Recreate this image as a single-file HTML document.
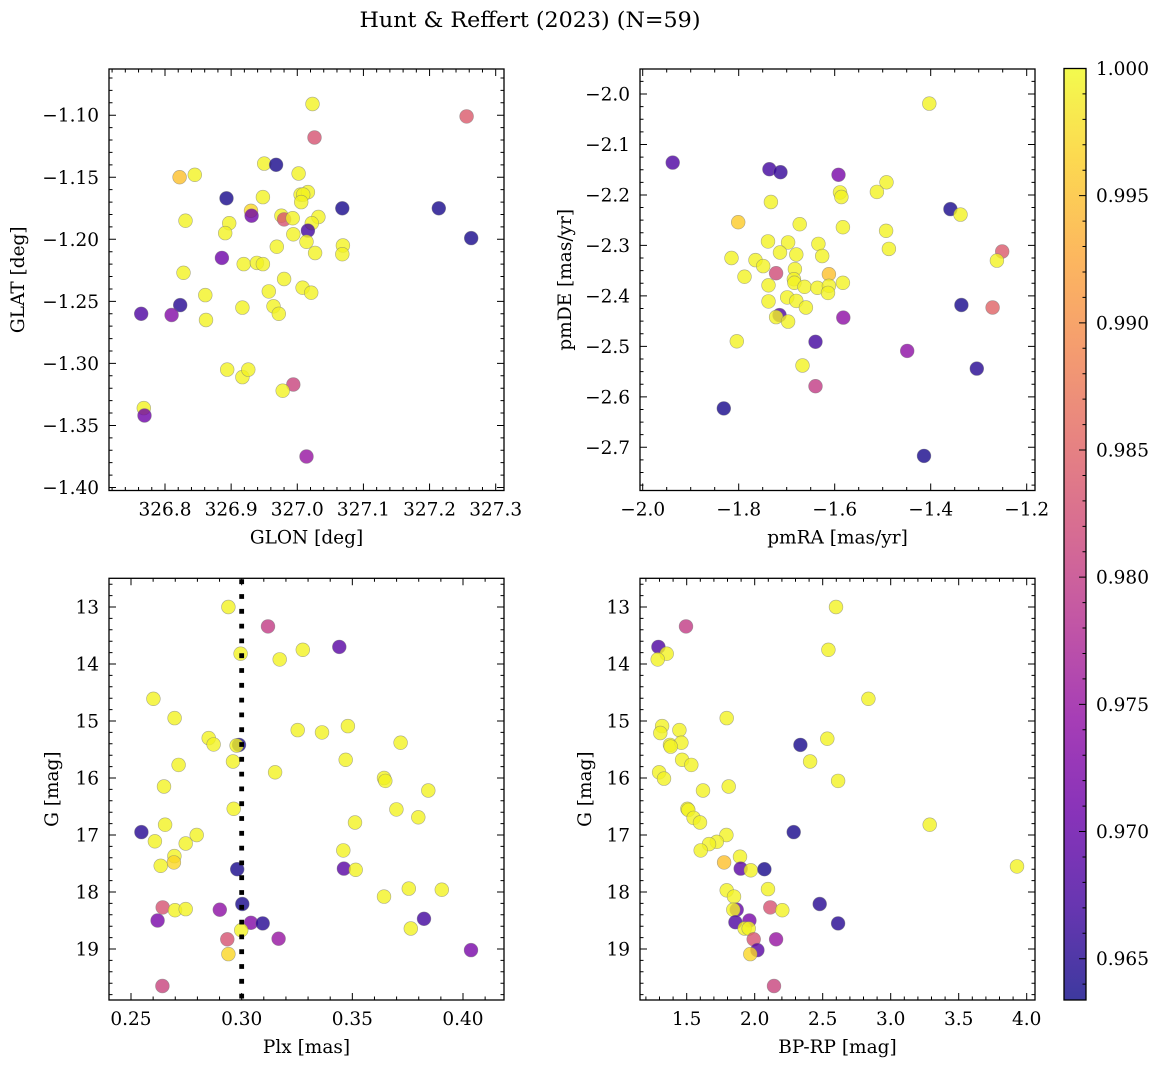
<!DOCTYPE html>
<html><head><meta charset="utf-8">
<style>
html,body{margin:0;padding:0;background:#fff;}
svg{display:block;font-family:"DejaVu Serif","Liberation Serif",serif;}
</style></head>
<body>
<svg id="fig" width="1161" height="1068" viewBox="0 0 1161 1068" xmlns="http://www.w3.org/2000/svg">
<text x="530" y="27" font-size="21.5" text-anchor="middle" textLength="341" lengthAdjust="spacingAndGlyphs">Hunt &amp; Reffert (2023) (N=59)</text>
</svg>
<script>
// ---- Panel 1: GLON vs GLAT ----
const p1Glon = [327.023,327.026,327.256,326.950,326.968,326.822,326.845,327.002,326.893,326.948,327.005,327.016,327.009,327.006,327.068,327.214,327.263,326.930,326.931,326.831,326.897,326.891,326.976,326.980,326.993,327.032,327.022,327.016,326.994,327.014,326.969,327.027,327.069,327.068,326.886,326.919,326.939,326.948,326.828,326.980,326.861,326.957,327.008,327.021,326.823,326.764,326.810,326.862,326.917,326.964,326.972,326.894,326.917,326.926,326.994,326.978,326.768,326.769,327.014];
const p1Glat = [-1.091,-1.118,-1.101,-1.139,-1.140,-1.150,-1.148,-1.147,-1.167,-1.166,-1.164,-1.162,-1.164,-1.170,-1.175,-1.175,-1.199,-1.177,-1.181,-1.185,-1.187,-1.195,-1.181,-1.184,-1.183,-1.182,-1.187,-1.193,-1.196,-1.202,-1.206,-1.211,-1.205,-1.212,-1.215,-1.220,-1.219,-1.220,-1.227,-1.232,-1.245,-1.242,-1.239,-1.243,-1.253,-1.260,-1.261,-1.265,-1.255,-1.254,-1.260,-1.305,-1.311,-1.305,-1.317,-1.322,-1.336,-1.342,-1.375];
const p1Prob = [0.9995,0.983,0.984,0.9995,0.964,0.995,0.9995,0.9995,0.964,0.9995,0.9995,0.9995,0.9995,0.9995,0.964,0.964,0.964,0.997,0.971,0.9995,0.9995,0.9995,0.9995,0.983,0.9995,0.9995,0.9995,0.967,0.9995,0.9995,0.9995,0.9995,0.9995,0.9995,0.971,0.9995,0.9995,0.9995,0.9995,0.9995,0.9995,0.9995,0.9995,0.9995,0.965,0.968,0.973,0.9995,0.9995,0.9995,0.9995,0.9995,0.9995,0.9995,0.981,0.9995,0.9995,0.971,0.975];
const p1XTicks = [326.8,326.9,327.0,327.1,327.2,327.3];
const p1XLabels = ["326.8","326.9","327.0","327.1","327.2","327.3"];
const p1YTicks = [-1.10,-1.15,-1.20,-1.25,-1.30,-1.35,-1.40];
const p1YLabels = ["\u22121.10","\u22121.15","\u22121.20","\u22121.25","\u22121.30","\u22121.35","\u22121.40"];

// ---- Panel 2: pmRA vs pmDE ----
const p2Pmra = [-1.9375,-1.736,-1.713,-1.592,-1.403,-1.492,-1.512,-1.589,-1.586,-1.733,-1.359,-1.338,-1.801,-1.673,-1.583,-1.493,-1.487,-1.739,-1.697,-1.634,-1.626,-1.815,-1.714,-1.680,-1.765,-1.749,-1.251,-1.262,-1.788,-1.722,-1.683,-1.612,-1.685,-1.684,-1.738,-1.663,-1.636,-1.612,-1.614,-1.583,-1.699,-1.680,-1.738,-1.660,-1.715,-1.722,-1.697,-1.582,-1.336,-1.271,-1.804,-1.640,-1.449,-1.304,-1.667,-1.640,-1.831,-1.414];
const p2Pmde = [-2.136,-2.149,-2.155,-2.160,-2.019,-2.175,-2.194,-2.195,-2.204,-2.214,-2.228,-2.239,-2.254,-2.258,-2.264,-2.271,-2.307,-2.292,-2.294,-2.297,-2.321,-2.325,-2.314,-2.318,-2.329,-2.341,-2.312,-2.330,-2.362,-2.355,-2.347,-2.357,-2.367,-2.374,-2.379,-2.382,-2.384,-2.380,-2.394,-2.374,-2.403,-2.410,-2.411,-2.423,-2.438,-2.442,-2.451,-2.443,-2.418,-2.423,-2.490,-2.491,-2.509,-2.544,-2.538,-2.579,-2.623,-2.717];
const p2Prob = [0.968,0.967,0.966,0.972,0.9995,0.9995,0.9995,0.9995,0.9995,0.9995,0.964,0.9995,0.996,0.9995,0.9995,0.9995,0.9995,0.9995,0.9995,0.9995,0.9995,0.9995,0.9995,0.9995,0.9995,0.9995,0.984,0.9995,0.9995,0.982,0.9995,0.995,0.9995,0.9995,0.9995,0.9995,0.9995,0.9995,0.9995,0.9995,0.9995,0.9995,0.9995,0.9995,0.968,0.9995,0.9995,0.974,0.964,0.985,0.9995,0.967,0.974,0.965,0.9995,0.980,0.964,0.964];
const p2XTicks = [-2.0,-1.8,-1.6,-1.4,-1.2];
const p2XLabels = ["\u22122.0","\u22121.8","\u22121.6","\u22121.4","\u22121.2"];
const p2YTicks = [-2.0,-2.1,-2.2,-2.3,-2.4,-2.5,-2.6,-2.7];
const p2YLabels = ["\u22122.0","\u22122.1","\u22122.2","\u22122.3","\u22122.4","\u22122.5","\u22122.6","\u22122.7"];

// ---- Panel 3: Plx vs G ----
const p3Plx = [0.2940,0.3119,0.3441,0.2995,0.3276,0.3172,0.2601,0.2697,0.3253,0.3363,0.3480,0.2851,0.2873,0.2988,0.2977,0.3718,0.2961,0.2715,0.3470,0.3151,0.3643,0.3649,0.2649,0.3843,0.3699,0.2964,0.3798,0.3512,0.2654,0.2547,0.2797,0.2608,0.2747,0.3459,0.2696,0.2694,0.2634,0.2980,0.3462,0.3515,0.3643,0.3755,0.3904,0.2643,0.2699,0.2747,0.2901,0.3003,0.2620,0.3042,0.3095,0.3824,0.2998,0.3764,0.2935,0.3167,0.2940,0.4036,0.2642];
const p3G = [13.00,13.34,13.70,13.82,13.75,13.92,14.61,14.95,15.16,15.20,15.09,15.30,15.41,15.42,15.43,15.38,15.71,15.77,15.68,15.90,16.00,16.05,16.15,16.22,16.55,16.54,16.69,16.78,16.82,16.95,17.00,17.11,17.15,17.27,17.37,17.48,17.54,17.60,17.59,17.61,18.08,17.94,17.96,18.27,18.32,18.30,18.31,18.21,18.50,18.54,18.55,18.47,18.67,18.64,18.83,18.82,19.09,19.02,19.65];
const p3Prob = [0.9995,0.980,0.969,0.9995,0.9995,0.9995,0.9995,0.9995,0.9995,0.9995,0.9995,0.9995,0.9995,0.964,0.9995,0.9995,0.9995,0.9995,0.9995,0.9995,0.9995,0.9995,0.9995,0.9995,0.9995,0.9995,0.9995,0.9995,0.9995,0.965,0.9995,0.9995,0.9995,0.9995,0.9995,0.997,0.9995,0.964,0.969,0.9995,0.9995,0.9995,0.9995,0.983,0.9995,0.9995,0.974,0.964,0.972,0.973,0.965,0.967,0.9995,0.9995,0.983,0.975,0.997,0.972,0.981];
const p3XTicks = [0.25,0.30,0.35,0.40];
const p3XLabels = ["0.25","0.30","0.35","0.40"];
const gTicks = [13,14,15,16,17,18,19];
const gLabels = ["13","14","15","16","17","18","19"];
const plxRef = [0.30];

// ---- Panel 4: BP-RP vs G ----
const p4Bprp = [2.598,1.495,1.292,1.353,1.287,2.542,2.836,1.794,1.319,1.306,1.446,1.377,1.461,1.382,2.336,2.534,1.466,1.534,2.407,1.297,1.333,2.613,1.809,1.620,1.505,1.512,1.551,1.598,3.287,1.792,2.287,1.721,1.664,1.603,3.929,1.892,1.775,1.897,1.971,2.071,1.794,1.848,2.098,2.478,2.115,2.203,1.868,1.843,2.613,1.858,1.961,1.926,1.956,1.993,2.157,2.020,1.968,2.142];
const p4G = [13.00,13.34,13.70,13.82,13.92,13.75,14.61,14.95,15.09,15.21,15.16,15.42,15.38,15.45,15.42,15.31,15.68,15.77,15.71,15.90,16.01,16.05,16.15,16.22,16.54,16.56,16.70,16.78,16.82,17.00,16.95,17.12,17.16,17.27,17.55,17.38,17.48,17.59,17.62,17.60,17.97,18.08,17.95,18.21,18.27,18.32,18.31,18.31,18.55,18.53,18.50,18.64,18.64,18.83,18.83,19.02,19.09,19.65];
const p4Prob = [0.9995,0.980,0.968,0.9995,0.9995,0.9995,0.9995,0.9995,0.9995,0.9995,0.9995,0.9995,0.9995,0.9995,0.964,0.9995,0.9995,0.9995,0.9995,0.9995,0.9995,0.9995,0.9995,0.9995,0.9995,0.9995,0.9995,0.9995,0.9995,0.9995,0.964,0.9995,0.9995,0.9995,0.9995,0.9995,0.995,0.969,0.9995,0.964,0.9995,0.9995,0.9995,0.965,0.983,0.9995,0.970,0.9995,0.965,0.968,0.972,0.9995,0.9995,0.983,0.975,0.969,0.997,0.981];
const p4XTicks = [1.5,2.0,2.5,3.0,3.5,4.0];
const p4XLabels = ["1.5","2.0","2.5","3.0","3.5","4.0"];

// ---- Colorbar ----
const cbTicks = [1.000,0.995,0.990,0.985,0.980,0.975,0.970,0.965];
const cbLabels = ["1.000","0.995","0.990","0.985","0.980","0.975","0.970","0.965"];
const cbMin = 0.96335, cbMax = 1.0;

const NS = "http://www.w3.org/2000/svg";
const svg = document.getElementById('fig');
function mk(tag, attrs, parent){
  const e = document.createElementNS(NS, tag);
  for (const k in attrs) e.setAttribute(k, attrs[k]);
  (parent||svg).appendChild(e);
  return e;
}
const plasma = [[13,8,135],[65,4,157],[106,0,168],[143,13,164],[177,42,144],[204,71,120],[225,100,98],[242,132,75],[252,166,54],[252,206,37],[240,249,33]];
function cmap(v){
  let t = (v - cbMin)/(cbMax - cbMin); t = Math.max(0, Math.min(1, t));
  const f = t*10, i = Math.min(9, Math.floor(f)), r = f - i;
  const a = plasma[i], b = plasma[i+1];
  return 'rgb(' + [0,1,2].map(k => Math.round(a[k] + (b[k]-a[k])*r)).join(',') + ')';
}
function linScale(d0, d1, r0, r1){ return v => r0 + (v - d0)*(r1 - r0)/(d1 - d0); }

function panel(opt){
  const g = mk('g', {});
  
  
  const L = opt.x0, R = opt.x1, T = opt.y0, B = opt.y1;
  const sx = opt.sx, sy = opt.sy;
  const pg = mk('g', {}, g);
  
  
  for (let i = 0; i < opt.xs.length; i++){
    const c = mk('circle', {cx: sx(opt.xs[i]).toFixed(1), cy: sy(opt.ys[i]).toFixed(1), r: 6.9, fill: cmap(opt.ps[i]), 'fill-opacity': 0.8, stroke: '#777', 'stroke-opacity': 0.6, 'stroke-width': 0.6}, pg);
    
    
  }
  if (opt.extra) opt.extra(g);
  const fr = mk('rect', {x: L, y: T, width: R-L, height: B-T, fill: 'none', stroke: '#000', 'stroke-width': 1.3}, g);
  
  
  let tp = '';
  const lo = Math.min(opt.xd[0], opt.xd[1]), hi = Math.max(opt.xd[0], opt.xd[1]);
  for (let v = Math.ceil(lo/opt.xminor - 1e-6)*opt.xminor; v <= hi + 1e-9; v += opt.xminor){
    const x = sx(v); if (x < L+0.5 || x > R-0.5) continue;
    tp += `M${x},${B}v-3.5M${x},${T}v3.5`;
  }
  const ylo = Math.min(opt.yd[0], opt.yd[1]), yhi = Math.max(opt.yd[0], opt.yd[1]);
  for (let v = Math.ceil(ylo/opt.yminor - 1e-6)*opt.yminor; v <= yhi + 1e-9; v += opt.yminor){
    const y = sy(v); if (y < T+0.5 || y > B-0.5) continue;
    tp += `M${L},${y}h3.5M${R},${y}h-3.5`;
  }
  opt.xt.forEach(v => { const x = sx(v); tp += `M${x},${B}v-7M${x},${T}v7`; });
  opt.yt.forEach(v => { const y = sy(v); tp += `M${L},${y}h7M${R},${y}h-7`; });
  const tk = mk('path', {d: tp, stroke: '#000', 'stroke-width': 1, fill: 'none'}, g);
  
  
  opt.xt.forEach((v, i) => {
    const t = mk('text', {x: sx(v), y: B + 25, 'font-size': 18.5, 'text-anchor': 'middle'}, g);
    t.textContent = opt.xl[i];
    
    
  });
  opt.yt.forEach((v, i) => {
    const t = mk('text', {x: L - 10, y: sy(v) + 6.5, 'font-size': 18.5, 'text-anchor': 'end'}, g);
    t.textContent = opt.yl[i];
    
    
  });
  const xt = mk('text', {x: (L+R)/2, y: B + 53, 'font-size': 18.5, 'text-anchor': 'middle'}, g);
  xt.textContent = opt.xlabel;
  
  
  const yt = mk('text', {x: 0, y: 0, 'font-size': 18.5, 'text-anchor': 'middle', transform: `translate(${opt.ylx},${(T+B)/2}) rotate(-90)`}, g);
  yt.textContent = opt.ylabel;
  
  
}

(function(){
  const L=109,R=504,T=69,B=490.5;
  const sx = linScale(326.8, 327.3, 165, 495.7);
  const sy = linScale(-1.10, -1.40, 115.2, 487.5);
  const xd = [326.8 + (L-165)/661, 326.8 + (R-165)/661];
  const yd = [-1.10 - (T-115.2)/1240, -1.10 - (B-115.2)/1240];
  panel({name:'glon-glat-panel', x0:L,x1:R,y0:T,y1:B, sx, sy, xd, yd, xs:p1Glon, ys:p1Glat, ps:p1Prob,
    xt:p1XTicks, xl:p1XLabels, yt:p1YTicks, yl:p1YLabels, xminor:0.02, yminor:0.01,
    xlabel:'GLON [deg]', ylabel:'GLAT [deg]', ylx:24});
})();
(function(){
  const L=640,R=1035,T=69,B=490.5;
  const sx = linScale(-2.0, -1.2, 642.7, 1026.7);
  const sy = linScale(-2.0, -2.7, 94, 447.3);
  const xd = [-2.0 + (L-642.7)/480, -2.0 + (R-642.7)/480];
  const yd = [-2.0 - (T-94)/504.7, -2.0 - (B-94)/504.7];
  panel({name:'pmra-pmde-panel', x0:L,x1:R,y0:T,y1:B, sx, sy, xd, yd, xs:p2Pmra, ys:p2Pmde, ps:p2Prob,
    xt:p2XTicks, xl:p2XLabels, yt:p2YTicks, yl:p2YLabels, xminor:0.05, yminor:0.025,
    xlabel:'pmRA [mas/yr]', ylabel:'pmDE [mas/yr]', ylx:571});
})();
(function(){
  const L=109,R=504,T=578.3,B=1000;
  const sx = linScale(0.25, 0.40, 131, 463);
  const sy = linScale(13, 19, 607, 949);
  const xd = [0.25 + (L-131)/2213, 0.25 + (R-131)/2213];
  const yd = [13 + (T-607)/57, 13 + (B-607)/57];
  panel({name:'plx-g-panel', x0:L,x1:R,y0:T,y1:B, sx, sy, xd, yd, xs:p3Plx, ys:p3G, ps:p3Prob,
    xt:p3XTicks, xl:p3XLabels, yt:gTicks, yl:gLabels, xminor:0.01, yminor:0.2,
    xlabel:'Plx [mas]', ylabel:'G [mag]', ylx:58,
    extra: g => {
      plxRef.forEach(v => {
        const ln = mk('line', {x1: sx(v), x2: sx(v), y1: T+1, y2: B, stroke: '#000', 'stroke-width': 4.8, 'stroke-dasharray': '4.8 10'}, g);
        
        
      });
    }});
})();
(function(){
  const L=640,R=1035,T=578.3,B=1000;
  const sx = linScale(1.5, 4.0, 686.7, 1026.7);
  const sy = linScale(13, 19, 607, 949);
  const xd = [1.5 + (L-686.7)/136, 1.5 + (R-686.7)/136];
  const yd = [13 + (T-607)/57, 13 + (B-607)/57];
  panel({name:'color-magnitude-panel', x0:L,x1:R,y0:T,y1:B, sx, sy, xd, yd, xs:p4Bprp, ys:p4G, ps:p4Prob,
    xt:p4XTicks, xl:p4XLabels, yt:gTicks, yl:gLabels, xminor:0.1, yminor:0.2,
    xlabel:'BP-RP [mag]', ylabel:'G [mag]', ylx:591});
})();

(function(){
  const L=1064,R=1086,T=68.5,B=1000;
  const g = mk('g', {});
  
  
  const defs = mk('defs', {}, g);
  const grad = mk('linearGradient', {id:'cbgrad', x1:0, y1:1, x2:0, y2:0}, defs);
  for (let i = 0; i <= 20; i++){
    const t = i/20;
    mk('stop', {offset: t, 'stop-color': cmap(cbMin + t*(cbMax-cbMin)), 'stop-opacity': 0.8}, grad);
  }
  const r = mk('rect', {x:L, y:T, width:R-L, height:B-T, fill:'url(#cbgrad)', stroke:'#000', 'stroke-width':1.3}, g);
  
  
  const sy = linScale(1.0, 0.965, T, 958.7);
  let d = '';
  for (let v = 0.964; v <= 1.0001; v += 0.001){
    const y = sy(v); if (y < T+0.5 || y > B-0.5) continue;
    d += `M${R},${y}h-3.5`;
  }
  cbTicks.forEach(v => { d += `M${R},${sy(v)}h-7`; });
  const tk = mk('path', {d, stroke:'#000', 'stroke-width':1, fill:'none'}, g);
  
  
  cbTicks.forEach((v, i) => {
    const t = mk('text', {x: 1096, y: sy(v) + 6.5, 'font-size': 18.5}, g);
    t.textContent = cbLabels[i];
    
    
  });
})();
</script>
</body></html>
